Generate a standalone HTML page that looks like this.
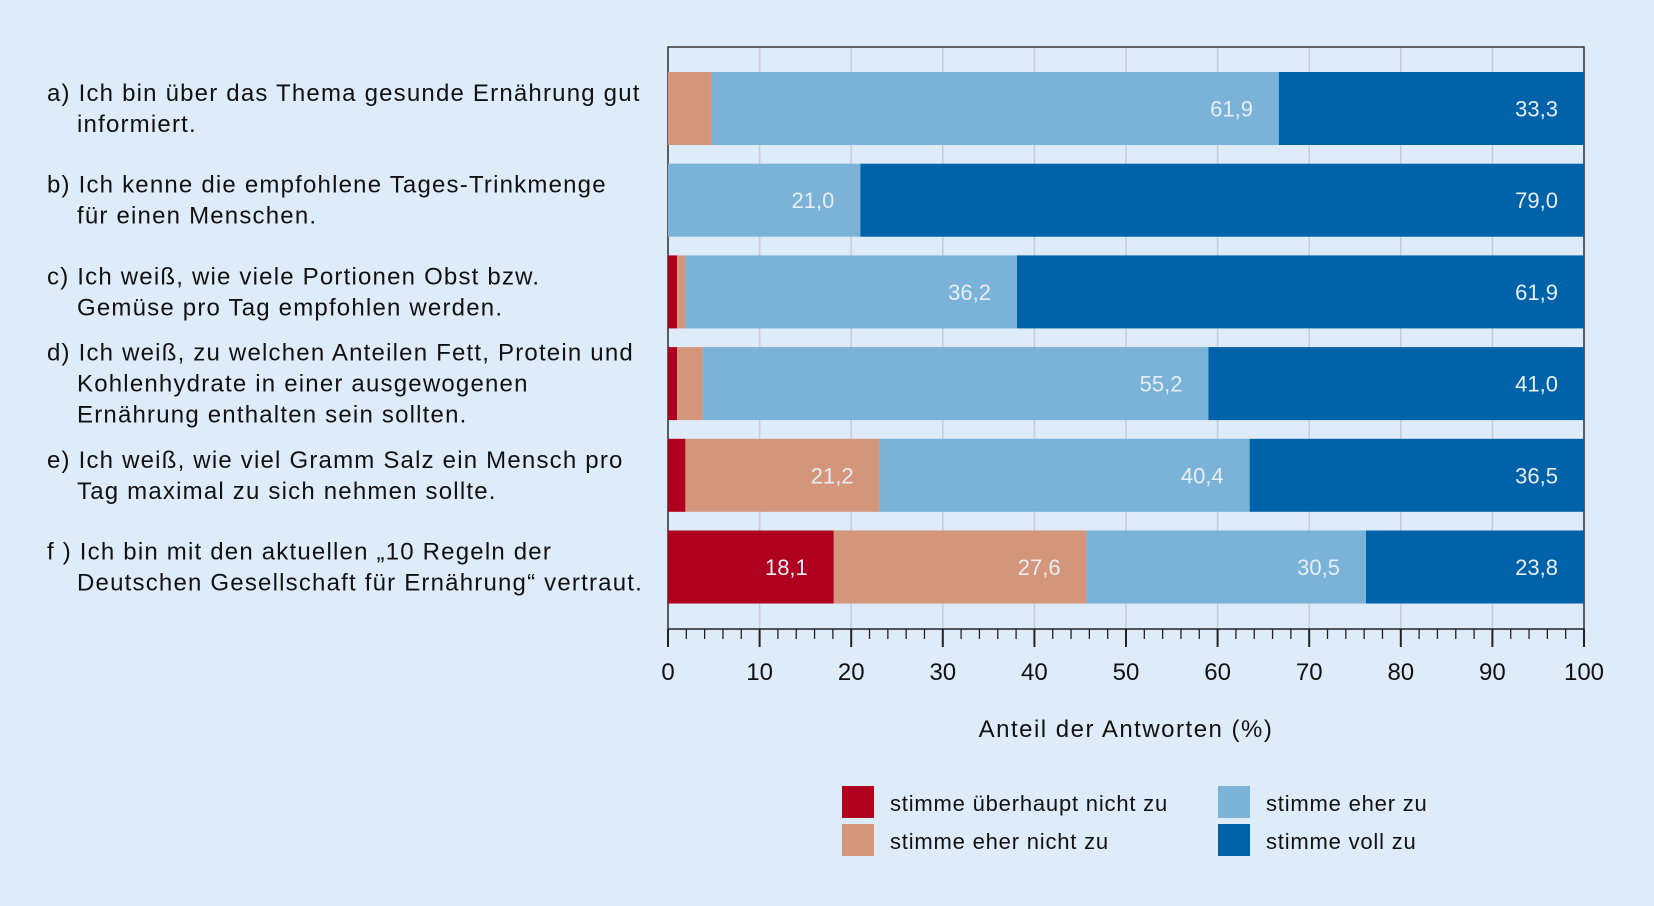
<!DOCTYPE html>
<html><head><meta charset="utf-8"><style>
html,body{margin:0;padding:0;background:#deebf8;}
svg{display:block;font-family:"Liberation Sans",sans-serif;}
</style></head><body>
<svg id="chart" width="1654" height="906" viewBox="0 0 1654 906">
<rect x="0" y="0" width="1654" height="906" fill="#deebf8"/>
<g id="grid"></g><g id="bars"></g><g id="axis"></g><g id="labels"></g><g id="legend"></g>
</svg>
<script>
const categories = [
  ["a) Ich bin über das Thema gesunde Ernährung gut","informiert."],
  ["b) Ich kenne die empfohlene Tages-Trinkmenge","für einen Menschen."],
  ["c) Ich weiß, wie viele Portionen Obst bzw.","Gemüse pro Tag empfohlen werden."],
  ["d) Ich weiß, zu welchen Anteilen Fett, Protein und","Kohlenhydrate in einer ausgewogenen","Ernährung enthalten sein sollten."],
  ["e) Ich weiß, wie viel Gramm Salz ein Mensch pro","Tag maximal zu sich nehmen sollte."],
  ["f ) Ich bin mit den aktuellen „10 Regeln der","Deutschen Gesellschaft für Ernährung“ vertraut."]
];
const seriesNames = ["stimme überhaupt nicht zu","stimme eher nicht zu","stimme eher zu","stimme voll zu"];
const valsNot = [0, 0, 1.0, 1.0, 1.9, 18.1];
const valsRatherNot = [4.8, 0, 0.9, 2.8, 21.2, 27.6];
const valsRather = [61.9, 21.0, 36.2, 55.2, 40.4, 30.5];
const valsFull = [33.3, 79.0, 61.9, 41.0, 36.5, 23.8];
const xTicks = [0,10,20,30,40,50,60,70,80,90,100];

const colors = ["#b00020","#d4967a","#7bb2d8","#0062a8"];
const NS = "http://www.w3.org/2000/svg";
const L=668, R=1584, T=47, B=629;
const x = v => L + (R-L)*v/100;
const barTop = i => 72 + i*91.7;
const barH = 73;
function mk(tag, attrs, parent){const e=document.createElementNS(NS,tag);for(const k in attrs)e.setAttribute(k,attrs[k]);parent.appendChild(e);return e;}
const grid=document.getElementById('grid'), bars=document.getElementById('bars'), axis=document.getElementById('axis'), labels=document.getElementById('labels'), legend=document.getElementById('legend');

xTicks.forEach(t=>{
  const g=mk('line',{x1:x(t),x2:x(t),y1:T,y2:B,stroke:'#c4ccd6','stroke-width':1.5},grid);
  
  
});
const frame=mk('path',{d:`M${L},${B} L${L},${T} L${R},${T} L${R},${B}`,fill:'none',stroke:'#333','stroke-width':1.5},grid);



const series=[valsNot,valsRatherNot,valsRather,valsFull];
categories.forEach((cat,i)=>{
  let acc=0;
  series.forEach((s,k)=>{
    const v=s[i];
    if(v>0){
      const r=mk('rect',{x:x(acc),y:barTop(i),width:x(acc+v)-x(acc),height:barH,fill:colors[k]},bars);
      
      
      if(v>=10){
        const t=mk('text',{x:x(acc+v)-26,y:barTop(i)+barH/2+8,'text-anchor':'end','font-size':22,fill:'#e8eef5'},bars);
        t.textContent=v.toFixed(1).replace('.',',');
        
        
      }
    }
    acc+=v;
  });
  const n=cat.length;
  const cy=barTop(i)+barH/2;
  const startY=cy-(n-1)*31/2+8;
  cat.forEach((line,j)=>{
    const t=mk('text',{x:j===0?47:77,y:startY+j*31,'font-size':24,'letter-spacing':1.2,fill:'#111'},labels);
    t.textContent=line;
    
    
  });
});

const ax=mk('line',{x1:L,x2:R,y1:B,y2:B,stroke:'#222','stroke-width':1.5},axis);


for(let v=0;v<=100;v+=2){
  const major=v%10===0;
  const tk=mk('line',{x1:x(v),x2:x(v),y1:B,y2:B+(major?18:10),stroke:'#222','stroke-width':major?2:1.3},axis);
  
  
}
xTicks.forEach(t=>{
  const tl=mk('text',{x:x(t),y:680,'text-anchor':'middle','font-size':24,fill:'#111'},axis);
  tl.textContent=String(t);
  
  
});
const title=mk('text',{x:(L+R)/2,y:737,'text-anchor':'middle','font-size':24,'letter-spacing':1.5,fill:'#111'},axis);
title.textContent='Anteil der Antworten (%)';



const lp=[[842,786],[842,824],[1218,786],[1218,824]];
[0,1,2,3].forEach((k,idx)=>{
  const [lx,ly]=lp[idx];
  const sq=mk('rect',{x:lx,y:ly,width:32,height:32,fill:colors[k]},legend);
  
  
  const t=mk('text',{x:lx+48,y:ly+25,'font-size':22,'letter-spacing':0.8,fill:'#111'},legend);
  t.textContent=seriesNames[k];
  
  
});
</script>
</body></html>
